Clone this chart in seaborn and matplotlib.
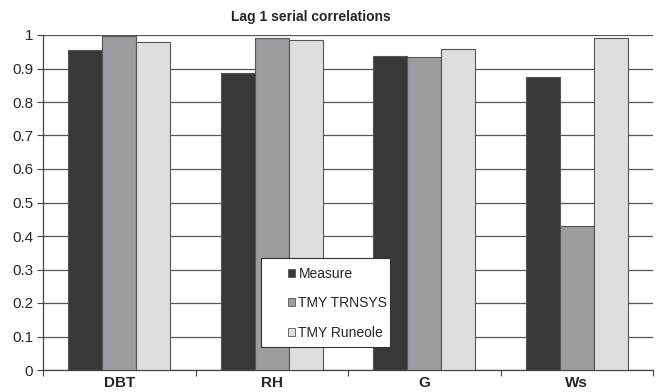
import numpy as np
import pandas as pd
import matplotlib
matplotlib.use("Agg")
import matplotlib.pyplot as plt
from matplotlib.ticker import FixedLocator
from matplotlib.patches import Rectangle
import seaborn as sns

# Valores
variables = ["DBT", "RH", "G", "Ws"]
series = ["Measure", "TMY TRNSYS", "TMY Runeole"]
measure = [0.955, 0.887, 0.937, 0.874]
tmy_trnsys = [0.998, 0.991, 0.934, 0.429]
tmy_runeole = [0.978, 0.984, 0.959, 0.992]
colors = ["#383838", "#9b9c9f", "#dddee0"]

df = pd.DataFrame({
    "variable": variables * 3,
    "series": [series[0]] * 4 + [series[1]] * 4 + [series[2]] * 4,
    "value": measure + tmy_trnsys + tmy_runeole,
})

sns.set_style("white")
plt.rcParams["font.family"] = ["Liberation Sans", "DejaVu Sans"]

W, H = 656, 392
fig = plt.figure(figsize=(W / 100, H / 100), dpi=100)
ax = fig.add_axes([43 / W, 1 - 370 / H, 610 / W, 335 / H])

sns.barplot(data=df, x="variable", y="value", hue="series", order=variables,
            hue_order=series, palette=colors, width=0.67, gap=0,
            edgecolor="#555555", linewidth=0.8, ax=ax, zorder=3)

ax.set_ylim(0, 1)
ax.set_xlim(-0.5, 3.5)
ax.set_yticks(np.arange(0, 1.01, 0.1))
ax.set_yticklabels(["0", "0.1", "0.2", "0.3", "0.4", "0.5", "0.6", "0.7", "0.8", "0.9", "1"])
ax.yaxis.grid(True, color="#555555", linewidth=0.9, zorder=0)
ax.set_axisbelow(True)
ax.set_xlabel("")
ax.set_ylabel("")

for s in ["top", "right"]:
    ax.spines[s].set_visible(False)
for s in ["left", "bottom"]:
    ax.spines[s].set_color("#444444")
    ax.spines[s].set_linewidth(0.9)

ax.tick_params(axis="y", left=True, length=4, width=0.8, color="#444444",
               labelsize=11, pad=3)
ax.tick_params(axis="x", which="major", bottom=False, labelsize=11, pad=1)
for lab in ax.get_xticklabels():
    lab.set_fontweight("bold")
ax.xaxis.set_minor_locator(FixedLocator([-0.5, 0.5, 1.5, 2.5, 3.5]))
ax.tick_params(axis="x", which="minor", bottom=True, length=4, width=0.8,
               color="#444444", direction="out")

fig.text(311 / W, 1 - 17 / H, "Lag 1 serial correlations", ha="center", va="center",
         fontsize=10, fontweight="bold")

# caixa da legenda desenhada à parte
box = Rectangle((261 / W, 1 - 347 / H), 129 / W, 89 / H, transform=fig.transFigure,
                facecolor="white", edgecolor="#333333", linewidth=0.8,
                zorder=4, clip_on=False)
ax.add_patch(box)

leg = ax.legend(loc="upper left", bbox_to_anchor=(288 / W, 1 - 267 / H),
                bbox_transform=fig.transFigure, frameon=False, fontsize=10,
                handlelength=0.5, handleheight=0.5, handletextpad=0.25,
                labelspacing=1.1, borderpad=0, borderaxespad=0)
for h in leg.legend_handles:
    h.set_edgecolor("#555555")
    h.set_linewidth(0.6)
leg.set_zorder(5)

fig.savefig("out.png", dpi=100, facecolor="white")
